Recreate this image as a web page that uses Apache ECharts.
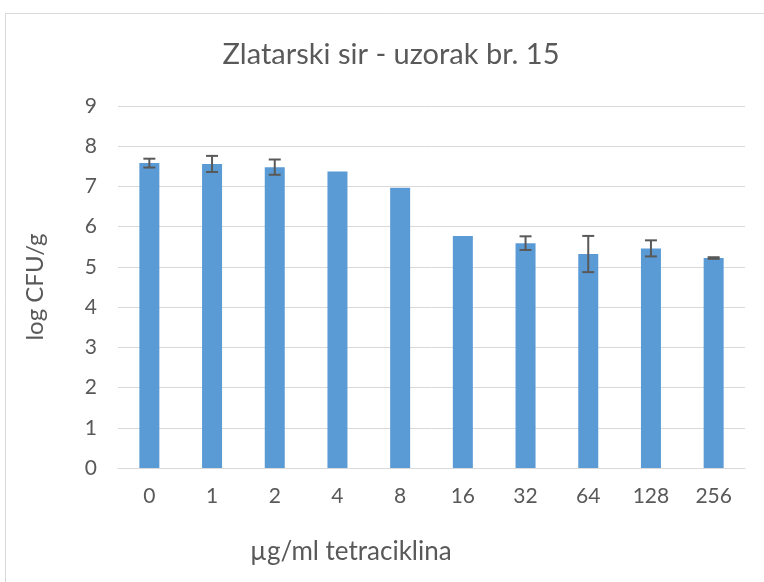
<!DOCTYPE html>
<html>
<head>
<meta charset="utf-8">
<script src="https://cdn.jsdelivr.net/npm/echarts@6/dist/echarts.min.js"></script>
<style>
  html, body { margin: 0; padding: 0; background: #fff; }
  #chart { width: 764px; height: 582px; }
</style>
</head>
<body>
<div id="chart"></div>
<script>
// values
var categories = ['0', '1', '2', '4', '8', '16', '32', '64', '128', '256'];
var meanValues = [7.58, 7.56, 7.48, 7.37, 6.97, 5.77, 5.59, 5.32, 5.46, 5.22];
var errorValues = [0.11, 0.2, 0.19, 0, 0, 0, 0.17, 0.45, 0.2, 0.02];
var yTicks = [0, 1, 2, 3, 4, 5, 6, 7, 8, 9];

var fontName = 'Lato';
var textColor = '#595959';

var errorData = [];
for (var i = 0; i < categories.length; i++) {
    errorData.push([i, meanValues[i] - errorValues[i], meanValues[i] + errorValues[i]]);
}

var myChart = echarts.init(document.getElementById('chart'));

var option = {
    backgroundColor: '#fff',
    animation: false,
    textStyle: { fontFamily: fontName, color: textColor },
    graphic: [
        {
            type: 'rect',
            shape: { x: 5.5, y: 13.5, width: 800, height: 600 },
            style: { fill: 'none', stroke: '#d9d9d9', lineWidth: 1 },
            silent: true
        },
        {
            // chart title
            type: 'text',
            x: 391,
            y: 55,
            style: {
                text: 'Zlatarski sir - uzorak br. 15',
                font: '29px Lato',
                fill: textColor,
                align: 'center',
                verticalAlign: 'middle'
            }
        },
        {
            // x axis title
            type: 'text',
            x: 250,
            y: 552,
            style: {
                text: 'µg/ml tetraciklina',
                font: '26px Lato',
                fill: textColor,
                align: 'left',
                verticalAlign: 'middle'
            }
        }
    ],
    grid: { left: 118, right: 19, top: 106, bottom: 114 },
    xAxis: {
        type: 'category',
        data: categories,
        axisTick: { show: false },
        axisLine: { lineStyle: { color: '#d9d9d9', width: 1 } },
        axisLabel: { color: textColor, fontSize: 21, margin: 18 }
    },
    yAxis: {
        type: 'value',
        min: yTicks[0],
        max: yTicks[yTicks.length - 1],
        interval: 1,
        name: 'log CFU/g',
        nameLocation: 'middle',
        nameGap: 71,
        nameTextStyle: { fontSize: 24, color: textColor },
        axisLine: { show: false },
        axisTick: { show: false },
        axisLabel: { color: textColor, fontSize: 21, margin: 21 },
        splitLine: { lineStyle: { color: '#d9d9d9', width: 1 } }
    },
    series: [
        {
            type: 'bar',
            data: meanValues,
            barWidth: 20,
            itemStyle: { color: '#5b9bd5' }
        },
        {
            type: 'custom',
            data: errorData,
            z: 5,
            renderItem: function (params, api) {
                if (api.value(2) - api.value(1) <= 0) return null;
                var lo = api.coord([api.value(0), api.value(1)]);
                var hi = api.coord([api.value(0), api.value(2)]);
                var half = 6;
                var st = { stroke: '#595959', lineWidth: 2 };
                return {
                    type: 'group',
                    children: [
                        { type: 'line', shape: { x1: hi[0], y1: hi[1], x2: lo[0], y2: lo[1] }, style: st },
                        { type: 'line', shape: { x1: hi[0] - half, y1: hi[1], x2: hi[0] + half, y2: hi[1] }, style: st },
                        { type: 'line', shape: { x1: lo[0] - half, y1: lo[1], x2: lo[0] + half, y2: lo[1] }, style: st }
                    ]
                };
            }
        }
    ]
};

myChart.setOption(option);
</script>
</body>
</html>
